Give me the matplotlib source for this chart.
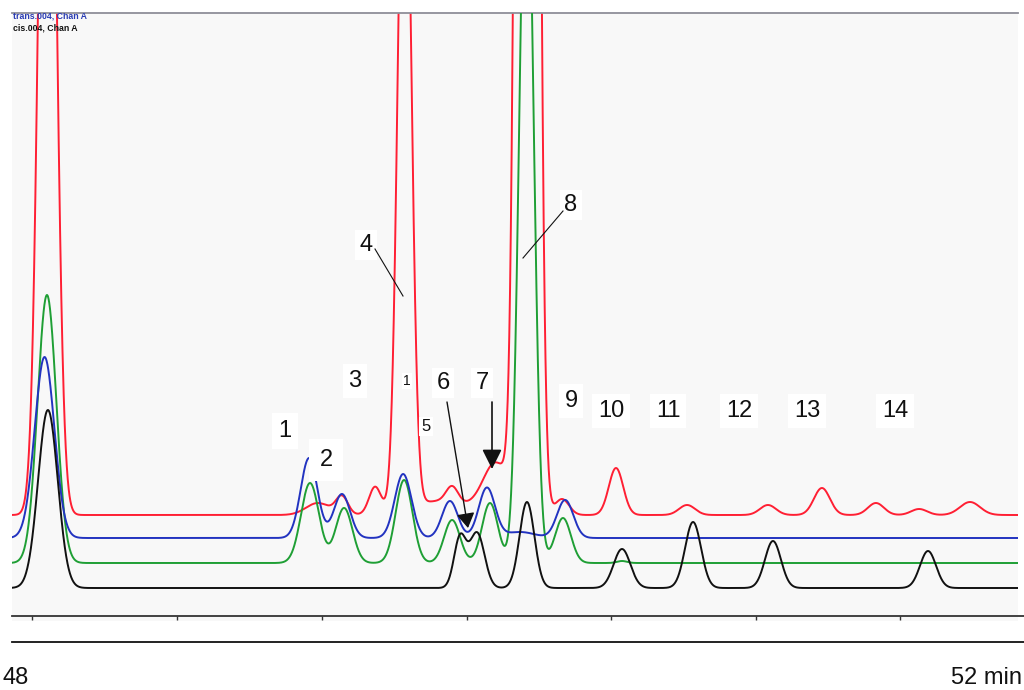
import numpy as np
import matplotlib
matplotlib.use("Agg")
import matplotlib.pyplot as plt

# ---------------- data ----------------
# retention times (min), peak heights (signal units), peak widths (sigma, min)
red_base = 175
red_rt = [48.131, 49.258, 49.358, 49.496, 49.619, 49.767, 49.817, 50.000,
          50.131, 50.275, 50.500, 50.796, 51.133, 51.358, 51.583, 51.763, 51.975]
red_h = [1057, 12, 18, 27, 760, 14, 16, 50, 4280, 16, 47, 10, 10, 27, 12, 6, 13]
red_w = [0.0325, 0.05, 0.025, 0.025, 0.0271, 0.125, 0.025, 0.054,
         0.0292, 0.0292, 0.0300, 0.0333, 0.0333, 0.0333, 0.0333, 0.0333, 0.0417]

blue_base = 152
blue_rt = [48.119, 49.221, 49.358, 49.613, 49.808, 49.962, 50.100, 50.288]
blue_h = [181, 80, 44, 64, 37, 50, 6, 38]
blue_w = [0.041, 0.035, 0.034, 0.035, 0.033, 0.034, 0.0625, 0.034]

green_base = 127
green_rt = [48.129, 49.225, 49.367, 49.617, 49.817, 49.975, 50.127, 50.279, 50.525]
green_h = [268, 80, 55, 83, 43, 60, 754, 45, 2]
green_w = [0.039, 0.0375, 0.035, 0.035, 0.0333, 0.0333, 0.0292, 0.0333, 0.0208]

black_base = 102
black_rt = [48.133, 49.850, 49.921, 50.129, 50.525, 50.821, 51.154, 51.800]
black_h = [178, 50, 55, 86, 39, 66, 47, 37]
black_w = [0.041, 0.025, 0.031, 0.031, 0.035, 0.0333, 0.0333, 0.0333]

peak_labels = ["1", "2", "3", "4", "1", "5", "6", "7", "8", "9",
               "10", "11", "12", "13", "14"]
tick_times = [48.067, 48.671, 49.275, 49.879, 50.479, 51.083, 51.683]
trace_names = ["trans.004, Chan A", "cis.004, Chan A"]

# ---------------- layout helpers ----------------
W, H = 1024, 690
X0_PX, T0, PX_PER_MIN = 16, 48.0, 240.0


def t_of(px):
    return T0 + (px - X0_PX) / PX_PER_MIN


def y_of(py):
    return H - py


FONT = ["Liberation Sans", "DejaVu Sans"]
plt.rcParams["font.family"] = FONT

fig = plt.figure(figsize=(W / 100, H / 100), dpi=100)
fig.patch.set_facecolor("white")
ax = fig.add_axes([12 / W, 0, (1018 - 12) / W, (H - 13) / H])
ax.set_xlim(t_of(12), t_of(1018))
ax.set_ylim(0, H - 13)
ax.set_facecolor("white")
for s in ["left", "right", "bottom"]:
    ax.spines[s].set_visible(False)
ax.spines["top"].set_color("#8e8e98")
ax.spines["top"].set_linewidth(1.3)
ax.set_xticks([])
ax.set_yticks([])

# faint textured plotting background
ax.axhspan(y_of(621), H - 13, color="#f8f8f8", zorder=0, lw=0)

t = np.linspace(t_of(12), t_of(1018), 5000)


def trace(base, rt, h, w):
    y = np.full_like(t, float(base))
    for r, hh, ww in zip(rt, h, w):
        y += hh * np.exp(-0.5 * ((t - r) / ww) ** 2)
    return y


ax.plot(t, trace(red_base, red_rt, red_h, red_w), color="#ff1f33", lw=1.4, zorder=2)
ax.plot(t, trace(green_base, green_rt, green_h, green_w), color="#1f9f35", lw=1.4, zorder=3)
ax.plot(t, trace(blue_base, blue_rt, blue_h, blue_w), color="#2233c0", lw=1.4, zorder=4)
ax.plot(t, trace(black_base, black_rt, black_h, black_w), color="#111111", lw=1.4, zorder=5)

# time axis lines and ticks
ax.plot([t_of(12), t_of(1024)], [y_of(616), y_of(616)], color="#333333", lw=1.3,
        clip_on=False, zorder=6)
ax.plot([t_of(12), t_of(1024)], [y_of(642), y_of(642)], color="#111111", lw=1.3,
        clip_on=False, zorder=6)
ax.vlines(tick_times, y_of(620), y_of(616), color="#333333", lw=1.0, zorder=6)
ax.text(t_of(16), y_of(684), "48", fontsize=17, ha="center", va="baseline",
        color="#111111", clip_on=False)
ax.text(t_of(951), y_of(684), "52 min", fontsize=17, ha="left", va="baseline",
        color="#111111", clip_on=False)

# trace names (top left)
ax.text(t_of(13), y_of(19), trace_names[0], fontsize=6.3, fontweight="bold",
        color="#2a3cb4", ha="left", va="baseline", clip_on=True, zorder=7)
ax.text(t_of(13), y_of(30), trace_names[1], fontsize=6.3, fontweight="bold",
        color="#111111", ha="left", va="baseline", clip_on=True, zorder=7)

# peak labels: (px x-center, px baseline, fontsize, pad)
label_pos = [(285, 437, 17, 5), (326, 466, 17, 7.5), (355, 387, 17, 4),
             (366, 251, 17, 3), (407, 385, 10, 1), (426, 431, 12, 1.5),
             (443, 389, 17, 3), (482, 389, 17, 3), (571, 211, 17, 3),
             (571, 407, 17, 4), (611, 417, 17, 4), (668, 417, 17, 4),
             (739, 417, 17, 4), (807, 417, 17, 4), (895, 417, 17, 4)]
for lab, (px, pyb, fs, pad) in zip(peak_labels, label_pos):
    ax.text(t_of(px), y_of(pyb), lab, fontsize=fs, ha="center", va="baseline",
            color="#111111", zorder=8,
            bbox=dict(facecolor="white", edgecolor="none", pad=pad))

# leader lines for 4 and 8
ax.plot([t_of(375), t_of(403)], [y_of(249), y_of(296)], color="#111111", lw=0.8, zorder=9)
ax.plot([t_of(563), t_of(523)], [y_of(211), y_of(258)], color="#111111", lw=0.8, zorder=9)

# arrows for 6 and 7
ax.annotate("", xy=(t_of(468), y_of(528)), xytext=(t_of(447), y_of(402)),
            arrowprops=dict(arrowstyle="-|>,head_length=9,head_width=5.5",
                            mutation_scale=1, color="#111111", lw=1.0,
                            shrinkA=0, shrinkB=0), zorder=9)
ax.annotate("", xy=(t_of(492), y_of(469)), xytext=(t_of(492), y_of(402)),
            arrowprops=dict(arrowstyle="-|>,head_length=12,head_width=6",
                            mutation_scale=1, color="#111111", lw=1.2,
                            shrinkA=0, shrinkB=0), zorder=9)

fig.savefig("out.png", dpi=100, facecolor="white")
